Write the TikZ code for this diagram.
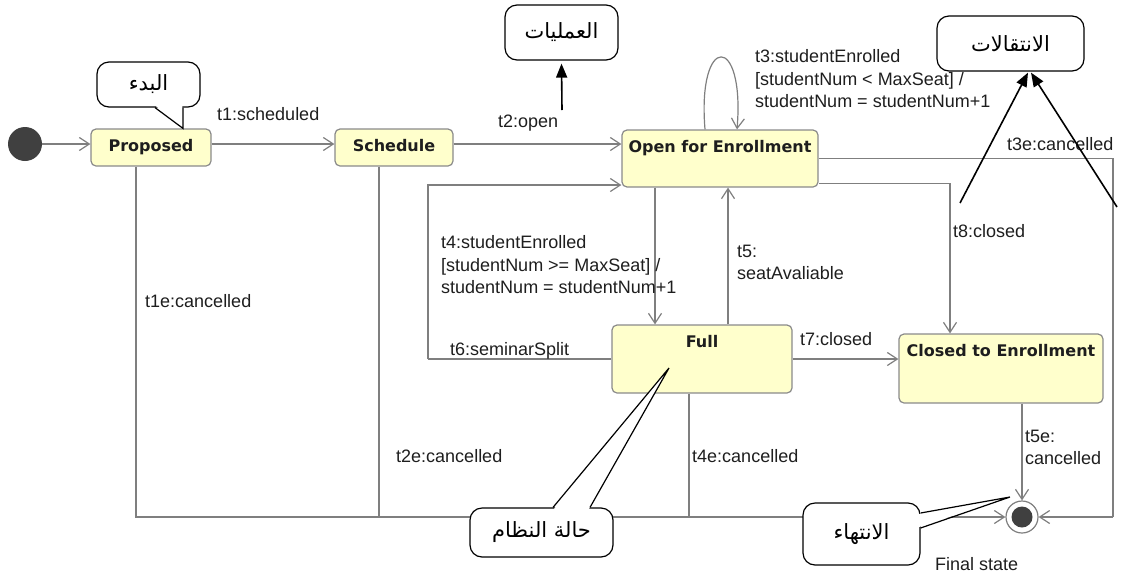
\documentclass[tikz,border=0pt]{standalone}
\usepackage{fontspec}
\setmainfont{Liberation Sans}
\newfontfamily\statefont{DejaVu Sans}
\newfontfamily\arabicfont[Script=Arabic]{DejaVu Sans}
\TeXXeTstate=1
\usetikzlibrary{arrows.meta,calc}

\definecolor{linegray}{HTML}{7F7F7F}
\definecolor{boxgray}{HTML}{8A8A8A}
\definecolor{stateyellow}{HTML}{FFFFCC}
\definecolor{dotgray}{HTML}{404040}
\definecolor{ink}{HTML}{1E1E1E}

\tikzset{
  trans/.style={draw=linegray,line width=1.2pt},
  arr/.style={trans,-{Straight Barb[length=10pt,width=13pt]}},
  state/.style={draw=boxgray,fill=stateyellow,rounded corners=5pt,line width=1.2pt,inner sep=0pt},
  statename/.style={font=\statefont\bfseries\fontsize{16}{19}\selectfont,text=ink,inner sep=0pt,anchor=base},
  lbl/.style={font=\fontsize{18}{22.5}\selectfont,text=ink,inner sep=0pt},
  callout/.style={draw=black,fill=white,rounded corners=12pt,line width=1.2pt,inner sep=0pt,
                  font=\arabicfont\fontsize{21}{24}\selectfont},
  pointer/.style={draw=black,line width=1.2pt},
  notearr/.style={draw=black,line width=1.6pt,-{Triangle[length=14pt,width=11pt]}},
}

\begin{document}
\begin{tikzpicture}[x=1pt,y=-1pt]
\useasboundingbox (0,0) rectangle (1121,579);

% ---------- states ----------
\node[circle,fill=dotgray,minimum size=34pt,inner sep=0pt] (init) at (25,144) {};
\node[state,minimum width=120pt,minimum height=37pt] (proposed) at (151,147.5) {};
\node[state,minimum width=118pt,minimum height=37pt] (schedule) at (394,147.5) {};
\node[state,minimum width=196pt,minimum height=57pt] (open) at (720,158.5) {};
\node[state,minimum width=180pt,minimum height=68pt] (full) at (702,359) {};
\node[state,minimum width=204pt,minimum height=69pt] (closed) at (1001,368.5) {};
\node[circle,draw=linegray,line width=1.2pt,fill=white,minimum size=32pt,inner sep=0pt] (final) at (1022,517) {};
\node[circle,fill=dotgray,minimum size=21pt,inner sep=0pt] (finaldot) at (final.center) {};

\node[statename] (proposedname) at ([yshift=-23.5pt]proposed.north) {Proposed};
\node[statename] (schedulename) at ([yshift=-23.5pt]schedule.north) {Schedule};
\node[statename] (openname) at ([yshift=-23.5pt]open.north) {Open for Enrollment};
\node[statename] (fullname) at ([yshift=-23.5pt]full.north) {Full};
\node[statename] (closedname) at ([yshift=-23.5pt]closed.north) {Closed to Enrollment};

% ---------- transitions ----------
\draw[arr] (init) -- ([yshift=3.5pt]proposed.west);
\draw[arr] ([yshift=3.5pt]proposed.east) -- ([yshift=3.5pt]schedule.west);
\coordinate (s1) at ([yshift=3.5pt]schedule.east);
\draw[arr] (s1) -- (s1 -| open.west);
% t3 self loop
\draw[arr] ([xshift=-15pt]open.north) .. controls (697,33) and (745,33) .. ([xshift=17pt]open.north);
% t3e
\coordinate (t3corner) at (1113,517);
\draw[trans] (open.east) -| (t3corner);
\draw[arr] (t3corner) -- (final.east);
% t8
\draw[arr] ([yshift=4pt]open.south east) -| ([xshift=-51pt]closed.north);
% t4
\draw[arr] ([xshift=-65pt]open.south) -- ([xshift=-47pt]full.north);
% t5
\draw[arr] ([xshift=26pt]full.north) -- ([xshift=8pt]open.south);
% t6
\coordinate (t6corner) at (428,359);
\draw[trans] (full.west) -- (t6corner);
\draw[arr] (t6corner) |- ([yshift=-26.5pt]open.west);
% t7
\draw[arr] (full.east) -- (full.east -| closed.west);
% t5e
\draw[arr] (final.north |- closed.south) -- (final.north);
% cancellations along the bottom
\coordinate (p1) at ([xshift=-15pt]proposed.south);
\draw[arr] (p1) |- (final.west);
\coordinate (p2) at ([xshift=-15pt]schedule.south);
\draw[trans] (p2) -- (p2 |- final.west);
\coordinate (p4) at ([xshift=-13pt]full.south);
\draw[trans] (p4) -- (p4 |- final.west);

% ---------- transition labels ----------
\node[lbl,anchor=base west] (lt1) at (217,120) {t1:scheduled};
\node[lbl,anchor=base west] (lt2) at (498,127) {t2:open};
\node[lbl,anchor=north west,align=left] (lt3) at (755,49.5)
  {t3:studentEnrolled\\{[}studentNum < MaxSeat{]} /\\studentNum = studentNum+1};
\node[lbl,anchor=base west] (lt3e) at (1007,150) {t3e:cancelled};
\node[lbl,anchor=base west] (lt8) at (953,237) {t8:closed};
\node[lbl,anchor=north west,align=left] (lt4) at (441,235.5)
  {t4:studentEnrolled\\{[}studentNum >= MaxSeat{]} /\\studentNum = studentNum+1};
\node[lbl,anchor=north west,align=left] (lt5) at (737,244.5) {t5:\\seatAvaliable};
\node[lbl,anchor=base west] (lt6) at (450,355) {t6:seminarSplit};
\node[lbl,anchor=base west] (lt7) at (800,345) {t7:closed};
\node[lbl,anchor=north west,align=left] (lt5e) at (1025,429.5) {t5e:\\cancelled};
\node[lbl,anchor=base west] (lt1e) at (145,307) {t1e:cancelled};
\node[lbl,anchor=base west] (lt2e) at (396,462) {t2e:cancelled};
\node[lbl,anchor=base west] (lt4e) at (692,462) {t4e:cancelled};
\node[lbl,anchor=base west] (lfinal) at (935,570) {Final state};

% ---------- notes ----------
% start
\node[callout,minimum width=103pt,minimum height=45pt] (nstart) at (148.5,84.5) {\beginR البدء\endR};
\coordinate (aL) at ([xshift=6.5pt]nstart.south);
\coordinate (aR) at ([xshift=34.5pt]nstart.south);
\coordinate (aT) at ([xshift=32pt]proposed.north);
\fill[white] ([xshift=1pt,yshift=1.5pt]aL) -- ([xshift=-0.6pt,yshift=1.5pt]aR) -- (aT) -- cycle;
\draw[pointer] (aL) -- (aT) -- (aR);

% operations
\node[callout,minimum width=113pt,minimum height=55pt] (nops) at (561.5,32.5) {\beginR العمليات\endR};
\coordinate (opsfoot) at (562,110);
\draw[notearr] (opsfoot) -- ([yshift=-3pt]nops.south);

% transitions
\node[callout,minimum width=147pt,minimum height=55pt] (ntrans) at (1010.5,43.5) {\beginR الانتقالات\endR};
\coordinate (tf1) at (960,203);
\coordinate (tf2) at (1117,207);
\draw[notearr] (tf1) -- ([xshift=17.5pt,yshift=-1pt]ntrans.south);
\draw[notearr] (tf2) -- ([xshift=20.5pt,yshift=-1pt]ntrans.south);

% system state
\node[callout,minimum width=143pt,minimum height=49pt] (nsys) at (541.5,532.5) {\beginR حالة النظام\endR};
\coordinate (dL) at ([xshift=11.5pt]nsys.north);
\coordinate (dR) at ([xshift=48.5pt]nsys.north);
\coordinate (dT) at ([xshift=-33pt,yshift=-9pt]full.center);
\fill[white] ([xshift=1pt,yshift=-1.5pt]dL) -- ([xshift=-1pt,yshift=-1.5pt]dR) -- (dT) -- cycle;
\draw[pointer] (dL) -- (dT) -- (dR);

% end
\node[callout,minimum width=117pt,minimum height=62pt] (nend) at (861.5,534) {\beginR الانتهاء\endR};
\coordinate (eU) at ([yshift=21pt]nend.east);
\coordinate (eD) at ([yshift=6pt]nend.east);
\coordinate (eT) at ([xshift=-12pt,yshift=20pt]final.center);
\fill[white] ([xshift=-1.5pt,yshift=-1pt]eU) -- ([xshift=-1.5pt,yshift=1pt]eD) -- (eT) -- cycle;
\draw[pointer] (eU) -- (eT) -- (eD);
\end{tikzpicture}
\end{document}
